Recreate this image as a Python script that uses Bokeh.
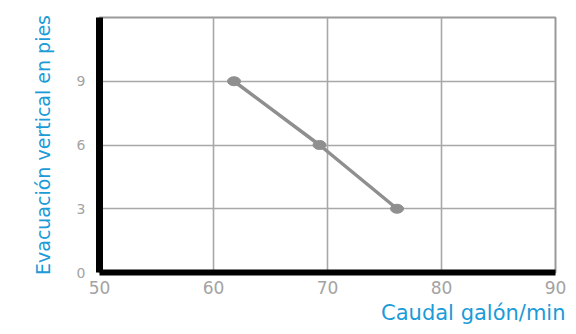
from bokeh.plotting import figure
from bokeh.models import FixedTicker, Range1d, Title
from bokeh.embed import file_html
from bokeh.resources import INLINE

# Data
flow_gpm = [61.8, 69.3, 76.1]          # Caudal galón/min
lift_ft = [9, 6, 3]                     # Evacuación vertical en pies
x_ticks = [50, 60, 70, 80, 90]
y_ticks = [0, 3, 6, 9]

BLUE = "#1b9bd7"
LABEL_GRAY = "#a3a3a3"
GRID_GRAY = "#a8a8a8"
LINE_GRAY = "#8f8f8f"

p = figure(width=568, height=326, output_backend="svg", toolbar_location=None,
           x_range=Range1d(50, 90), y_range=Range1d(0, 12),
           min_border_left=99, min_border_right=13, min_border_top=17, min_border_bottom=54)

p.background_fill_color = "white"
p.border_fill_color = "white"
p.outline_line_color = "#9a9a9a"
p.outline_line_width = 2

# grids
p.xaxis.ticker = FixedTicker(ticks=x_ticks)
p.yaxis.ticker = FixedTicker(ticks=y_ticks)
for g in (p.xgrid, p.ygrid):
    g.grid_line_color = GRID_GRAY
    g.grid_line_width = 1.6

# axes
for ax in (p.xaxis, p.yaxis):
    ax.axis_line_color = "black"
    ax.major_tick_line_color = None
    ax.minor_tick_line_color = None
    ax.major_tick_out = 0
    ax.major_tick_in = 0
    ax.major_label_text_color = LABEL_GRAY
    ax.major_label_text_font = "DejaVu Sans"
p.xaxis.axis_line_width = 6
p.yaxis.axis_line_width = 7
p.xaxis.major_label_text_font_size = "17px"
p.yaxis.major_label_text_font_size = "14px"
p.xaxis.major_label_standoff = 8
p.yaxis.major_label_standoff = 14

p.yaxis.axis_label = "Evacuación vertical en pies"
p.yaxis.axis_label_text_font = "DejaVu Sans"
p.yaxis.axis_label_text_font_size = "19px"
p.yaxis.axis_label_text_font_style = "normal"
p.yaxis.axis_label_text_color = BLUE
p.yaxis.axis_label_standoff = 20

xt = Title(text="Caudal galón/min", align="right", text_font="DejaVu Sans",
           text_font_size="21px", text_font_style="normal", text_color=BLUE,
           offset=-10, standoff=4)
p.add_layout(xt, "below")

# data
p.line(flow_gpm, lift_ft, line_color=LINE_GRAY, line_width=3.5)
p.ellipse(x=flow_gpm, y=lift_ft, width=13, height=9, width_units="screen",
          height_units="screen", fill_color=LINE_GRAY, line_color=LINE_GRAY)

open("out.html", "w").write(file_html(p, INLINE))
